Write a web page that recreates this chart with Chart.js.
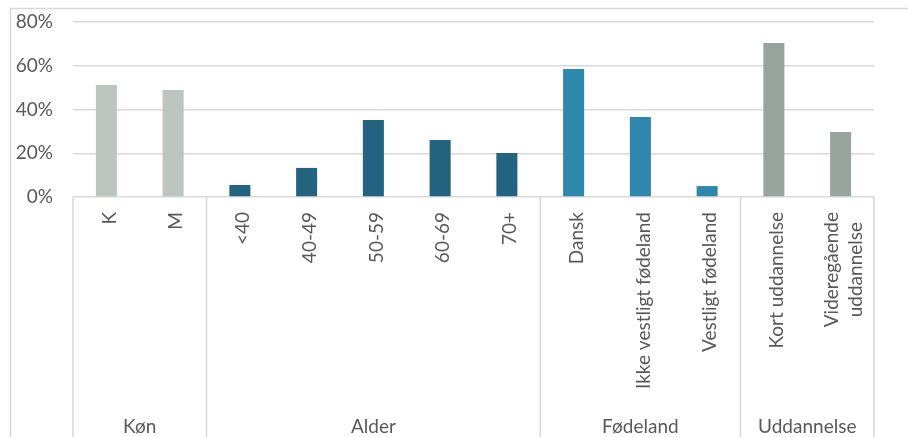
<!DOCTYPE html>
<html>
<head>
<meta charset="utf-8">
<script src="https://cdn.jsdelivr.net/npm/chart.js@4"></script>
<style>
  html, body { margin: 0; padding: 0; background: #ffffff; }
  #c { display: block; }
</style>
</head>
<body>
<canvas id="c" width="908" height="437"></canvas>
<script>
const categories = ['K', 'M', '<40', '40-49', '50-59', '60-69', '70+', 'Dansk',
  'Ikke vestligt fødeland', 'Vestligt fødeland', 'Kort uddannelse', ['Videregående', 'uddannelse']];
const values = [51.2, 48.9, 5.5, 13.3, 35.2, 26.1, 20.1, 58.5, 36.6, 5.0, 70.4, 29.7];
const groupNames = ['Køn', 'Alder', 'Fødeland', 'Uddannelse'];
const groupSizes = [2, 5, 3, 2];
const groupColors = ['#BCC5C0', '#23637F', '#2F87AB', '#98A59D'];
const yTickValues = [0, 20, 40, 60, 80];

const FONT = 'Lato';
const TEXT = '#595959';
const LINE = '#D9D9D9';

const barColors = [];
groupSizes.forEach((n, g) => { for (let i = 0; i < n; i++) barColors.push(groupColors[g]); });

const groupPlugin = {
  id: 'groupPlugin',
  beforeDraw(chart) {
    const ctx = chart.ctx;
    ctx.save();
    ctx.strokeStyle = LINE;
    ctx.lineWidth = 1.5;
    ctx.strokeRect(10.5, 8.5, 920, 440);
    ctx.restore();
  },
  afterDraw(chart) {
    const ctx = chart.ctx;
    const xs = chart.scales.x;
    const bottom = chart.chartArea.bottom;
    const half = (xs.getPixelForValue(1) - xs.getPixelForValue(0)) / 2;
    ctx.save();
    // category labels, rotated, read bottom-to-top, ending just under the axis
    ctx.fillStyle = TEXT;
    ctx.font = '19px ' + FONT;
    ctx.textBaseline = 'middle';
    ctx.textAlign = 'center';
    const lineGap = 24.5;
    categories.forEach((lab, i) => {
      const lines = Array.isArray(lab) ? lab : [lab];
      const maxW = Math.max(...lines.map(l => ctx.measureText(l).width));
      const cx = xs.getPixelForValue(i) + 3;
      lines.forEach((l, j) => {
        const off = (j - (lines.length - 1) / 2) * lineGap;
        ctx.save();
        ctx.translate(cx + off, bottom + 15 + maxW / 2);
        ctx.rotate(-Math.PI / 2);
        ctx.fillText(l, 0, 0);
        ctx.restore();
      });
    });
    // group separators
    ctx.strokeStyle = LINE;
    ctx.lineWidth = 1.5;
    let start = 0;
    const edges = [xs.getPixelForValue(0) - half];
    groupSizes.forEach(n => {
      start += n;
      edges.push(xs.getPixelForValue(start - 1) + half);
    });
    edges.forEach(x => {
      ctx.beginPath();
      ctx.moveTo(x, bottom);
      ctx.lineTo(x, chart.height);
      ctx.stroke();
    });
    // group names
    ctx.textAlign = 'center';
    ctx.textBaseline = 'alphabetic';
    groupNames.forEach((name, g) => {
      ctx.fillText(name, (edges[g] + edges[g + 1]) / 2, 433);
    });
    ctx.restore();
  }
};

new Chart(document.getElementById('c'), {
  type: 'bar',
  data: {
    labels: categories,
    datasets: [{
      data: values,
      backgroundColor: barColors,
      borderWidth: 0,
      barPercentage: 0.315,
      categoryPercentage: 1.0
    }]
  },
  options: {
    responsive: false,
    devicePixelRatio: 1,
    animation: false,
    layout: { padding: { left: 10, top: 22, right: 34, bottom: 0 } },
    plugins: { legend: { display: false }, tooltip: { enabled: false } },
    scales: {
      x: {
        grid: { display: false, drawTicks: false },
        border: { display: false },
        ticks: { display: false, autoSkip: false },
        afterFit(scale) {
          scale.height = 240;
          scale.paddingLeft = 0; scale.paddingRight = 0;
          scale.paddingTop = 0; scale.paddingBottom = 0;
        }
      },
      y: {
        min: 0,
        max: 80,
        afterBuildTicks(scale) { scale.ticks = yTickValues.map(v => ({ value: v })); },
        grid: { color: LINE, lineWidth: 1.5, drawTicks: false },
        border: { display: false },
        ticks: {
          padding: 20,
          color: TEXT,
          font: { family: FONT, size: 19 },
          callback: v => v + '%'
        },
        afterFit(scale) {
          scale.width = 63;
          scale.paddingTop = 0; scale.paddingBottom = 0;
        }
      }
    }
  },
  plugins: [groupPlugin]
});
</script>
</body>
</html>
